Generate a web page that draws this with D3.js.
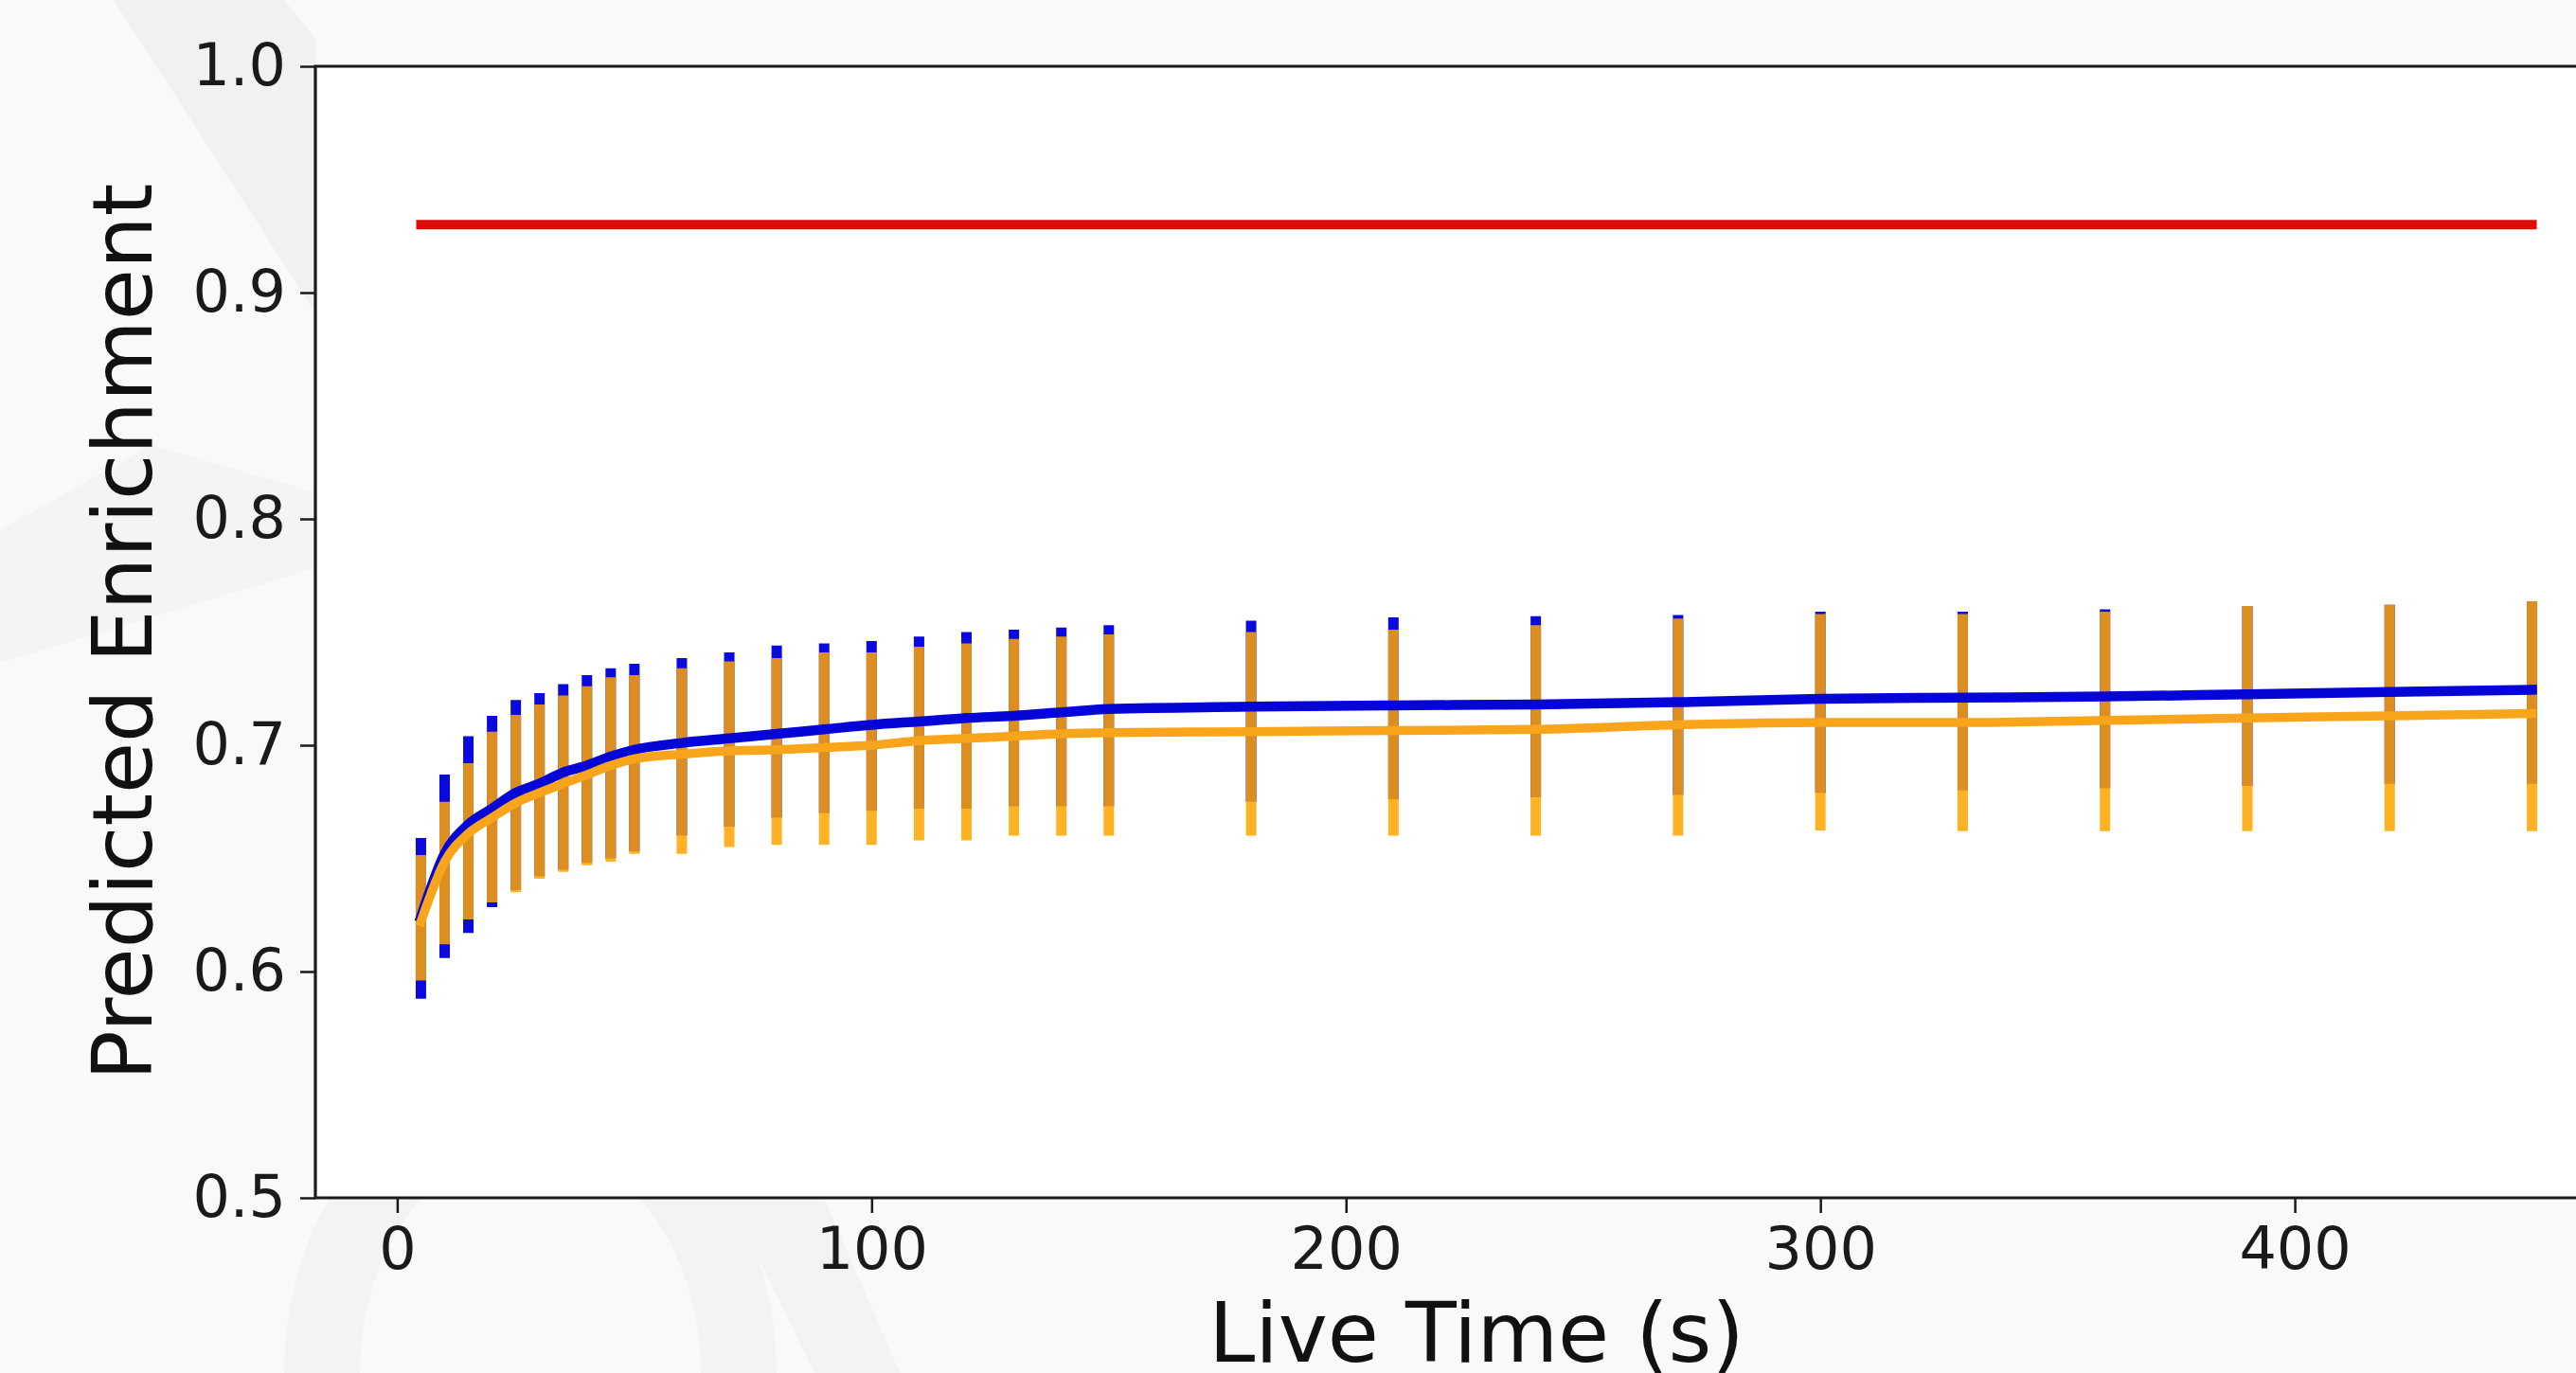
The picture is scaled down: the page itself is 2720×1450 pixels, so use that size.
<!DOCTYPE html>
<html>
<head>
<meta charset="utf-8">
<title>Predicted Enrichment vs Live Time</title>
<script src="https://cdn.jsdelivr.net/npm/d3@7"></script>
<style>
  body { margin: 0; background: #f9f9f9; overflow: hidden; }
  svg { display: block; font-family: "DejaVu Sans", sans-serif; }
  .tick text { fill: #1a1a1a; font-size: 62px; font-family: "DejaVu Sans", sans-serif; }
  .tick line { stroke: #1a1a1a; stroke-width: 2.5px; }
  .axis-label { font-size: 88px; fill: #111; }
</style>
</head>
<body>
<svg id="chart" width="2720" height="1450"></svg>
<script>
  // live time points (s)
  var liveTime = [5, 10, 15, 20, 25, 30, 35, 40, 45, 50,
                  60, 70, 80, 90, 100, 110, 120, 130, 140, 150,
                  180, 210, 240, 270, 300, 330, 360, 390, 420, 450];

  // true enrichment (red reference line)
  var trueEnrichment = [0.93, 0.93, 0.93, 0.93, 0.93, 0.93, 0.93, 0.93, 0.93, 0.93,
                        0.93, 0.93, 0.93, 0.93, 0.93, 0.93, 0.93, 0.93, 0.93, 0.93,
                        0.93, 0.93, 0.93, 0.93, 0.93, 0.93, 0.93, 0.93, 0.93, 0.93];

  // blue series: mean and error bar ends
  var blueMean = [0.624, 0.652, 0.665, 0.672, 0.679, 0.683, 0.688, 0.691, 0.695, 0.698,
                  0.701, 0.703, 0.705, 0.707, 0.709, 0.7105, 0.712, 0.713, 0.7145, 0.716,
                  0.717, 0.7176, 0.718, 0.719, 0.7205, 0.721, 0.7215, 0.7225, 0.7235, 0.7245];
  var blueHigh = [0.659, 0.687, 0.704, 0.713, 0.720, 0.723, 0.727, 0.731, 0.734, 0.736,
                  0.7385, 0.741, 0.744, 0.745, 0.746, 0.748, 0.750, 0.751, 0.752, 0.753,
                  0.755, 0.7565, 0.757, 0.7575, 0.759, 0.759, 0.760, 0.7615, 0.762, 0.7636];
  var blueLow  = [0.588, 0.606, 0.617, 0.6285, 0.636, 0.642, 0.645, 0.648, 0.650, 0.653,
                  0.660, 0.664, 0.668, 0.670, 0.671, 0.672, 0.672, 0.673, 0.673, 0.673,
                  0.675, 0.676, 0.677, 0.678, 0.679, 0.680, 0.681, 0.682, 0.683, 0.683];

  // orange series: mean and error bar ends
  var orangeMean = [0.622, 0.6485, 0.661, 0.668, 0.6745, 0.679, 0.683, 0.687, 0.691, 0.694,
                    0.696, 0.6975, 0.698, 0.699, 0.700, 0.702, 0.703, 0.704, 0.705, 0.7055,
                    0.706, 0.7065, 0.707, 0.709, 0.710, 0.710, 0.711, 0.712, 0.713, 0.714];
  var orangeHigh = [0.6515, 0.675, 0.692, 0.706, 0.7134, 0.718, 0.722, 0.726, 0.730, 0.731,
                    0.734, 0.737, 0.7385, 0.741, 0.741, 0.7435, 0.745, 0.747, 0.748, 0.749,
                    0.750, 0.751, 0.753, 0.756, 0.758, 0.758, 0.759, 0.7615, 0.762, 0.7636];
  var orangeLow  = [0.596, 0.612, 0.623, 0.6305, 0.635, 0.641, 0.644, 0.647, 0.6485, 0.652,
                    0.652, 0.655, 0.656, 0.656, 0.656, 0.658, 0.658, 0.660, 0.660, 0.660,
                    0.660, 0.660, 0.660, 0.660, 0.6623, 0.662, 0.662, 0.662, 0.662, 0.662];

  var xTicks = [0, 100, 200, 300, 400];
  var yTicks = [0.5, 0.6, 0.7, 0.8, 0.9, 1.0];

  var svg = d3.select("#chart");
  var axLeft = 333, axRight = 2785, axTop = 70, axBottom = 1265;

  // faint watermark in the figure background
  var wm = svg.append("g").attr("fill", "#f1f1f1");
  wm.append("path").attr("d", "M120,0 L300,0 L333,40 L333,330 Z");
  wm.append("path").attr("d", "M0,560 L160,470 L333,520 L333,600 L0,700 Z").attr("fill", "#f4f4f4");
  wm.append("path").attr("d", "M300,1450 A260,320 0 0 1 820,1450 L740,1450 A180,240 0 0 0 380,1450 Z").attr("fill", "#f3f3f3");
  wm.append("path").attr("d", "M770,1265 L860,1450 L950,1450 L870,1265 Z").attr("fill", "#f3f3f3");

  // axes background
  svg.append("rect")
     .attr("x", axLeft).attr("y", axTop)
     .attr("width", axRight - axLeft).attr("height", axBottom - axTop)
     .attr("fill", "#ffffff");

  var x = d3.scaleLinear().domain([-17.25, 472.25]).range([axLeft, axRight]);
  var y = d3.scaleLinear().domain([0.5, 1.0]).range([axBottom, axTop]);

  var rows = liveTime.map(function(t, i) {
    return { t: t, truth: trueEnrichment[i],
             bm: blueMean[i], bh: blueHigh[i], bl: blueLow[i],
             om: orangeMean[i], oh: orangeHigh[i], ol: orangeLow[i] };
  });

  var plot = svg.append("g");

  // blue error bars
  plot.selectAll(".bbar").data(rows).enter().append("line")
      .attr("class", "bbar")
      .attr("x1", function(d) { return x(d.t); })
      .attr("x2", function(d) { return x(d.t); })
      .attr("y1", function(d) { return y(d.bl); })
      .attr("y2", function(d) { return y(d.bh); })
      .attr("stroke", "#0a0ae0")
      .attr("stroke-width", 11);

  // orange error bars on top, a bit transparent
  plot.selectAll(".obar").data(rows).enter().append("line")
      .attr("class", "obar")
      .attr("x1", function(d) { return x(d.t); })
      .attr("x2", function(d) { return x(d.t); })
      .attr("y1", function(d) { return y(d.ol); })
      .attr("y2", function(d) { return y(d.oh); })
      .attr("stroke", "#ffa500")
      .attr("stroke-opacity", 0.86)
      .attr("stroke-width", 11);

  // red reference line
  plot.append("path")
      .datum(rows)
      .attr("fill", "none")
      .attr("stroke", "#e00c0c")
      .attr("stroke-width", 10)
      .attr("stroke-linecap", "square")
      .attr("d", d3.line().x(function(d) { return x(d.t); }).y(function(d) { return y(d.truth); }));

  // mean lines
  plot.append("path")
      .datum(rows)
      .attr("fill", "none")
      .attr("stroke", "#0505d8")
      .attr("stroke-width", 10.5)
      .attr("stroke-linecap", "square")
      .attr("d", d3.line().curve(d3.curveMonotoneX)
                  .x(function(d) { return x(d.t); }).y(function(d) { return y(d.bm); }));

  plot.append("path")
      .datum(rows)
      .attr("fill", "none")
      .attr("stroke", "#f8a51c")
      .attr("stroke-width", 9.5)
      .attr("stroke-linecap", "square")
      .attr("d", d3.line().curve(d3.curveMonotoneX)
                  .x(function(d) { return x(d.t); }).y(function(d) { return y(d.om); }));

  // axes
  var yAxis = svg.append("g")
      .attr("transform", "translate(" + axLeft + ",0)")
      .call(d3.axisLeft(y).tickValues(yTicks).tickFormat(d3.format(".1f"))
              .tickSize(16).tickSizeOuter(0).tickPadding(15));
  yAxis.select(".domain").remove();

  var xAxis = svg.append("g")
      .attr("transform", "translate(0," + axBottom + ")")
      .call(d3.axisBottom(x).tickValues(xTicks).tickFormat(d3.format("d"))
              .tickSize(16).tickSizeOuter(0).tickPadding(15));
  xAxis.select(".domain").remove();

  // spines (right one falls outside the picture)
  svg.append("path")
     .attr("d", "M" + axRight + "," + axTop + "H" + axLeft + "V" + axBottom + "H" + axRight)
     .attr("fill", "none")
     .attr("stroke", "#1a1a1a")
     .attr("stroke-width", 3.2);

  // axis labels
  svg.append("text")
     .attr("class", "axis-label")
     .attr("x", (axLeft + axRight) / 2)
     .attr("y", 1438)
     .attr("text-anchor", "middle")
     .text("Live Time (s)");

  svg.append("text")
     .attr("class", "axis-label")
     .attr("transform", "translate(160," + (axTop + axBottom) / 2 + ") rotate(-90)")
     .attr("text-anchor", "middle")
     .text("Predicted Enrichment");
</script>
</body>
</html>
